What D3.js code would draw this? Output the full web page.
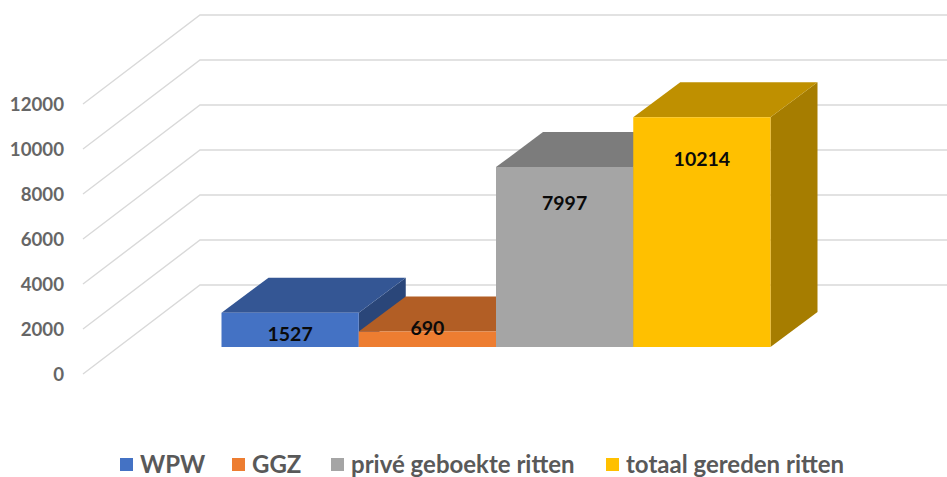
<!DOCTYPE html>
<html><head><meta charset="utf-8">
<script src="https://cdn.jsdelivr.net/npm/d3@7"></script>
<style>html,body{margin:0;padding:0;background:#fff}svg{display:block}text{font-family:Lato,"Open Sans",sans-serif}</style>
</head><body><svg id="c" width="947" height="477"></svg>
<script>
const categories = ["WPW","GGZ","privé geboekte ritten","totaal gereden ritten"];
const values = [1527,690,7997,10214];
const ticks = [0,2000,4000,6000,8000,10000,12000];
const frontColors = ["#4472C4","#ED7D31","#A5A5A5","#FFC000"];
const topColors = ["#345694","#B25E25","#7C7C7C","#BF9000"];
const sideColors = ["#2A4679","#914C1E","#656565","#A67D00"];
const legendSwatchX = [120,232,331,606];
const labelOffsets = [22,-3.5,36,41.5];

const svg = d3.select("#c");
const y = d3.scaleLinear().domain([0,12000]).range([347,77]);
const x = d3.scaleBand().domain(categories).range([221.5,770.5]).padding(0);
const depth = {dx:47, dy:-35};
const wall = {dy:-62, leftX:83, leftDy:27, cornerX:200, rightX:947};

const grid = svg.append("g").attr("fill","none").attr("stroke","#D9D9D9").attr("stroke-width",1.4);
ticks.forEach(t=>{
  const yy=y(t);
  grid.append("path").attr("d",d3.line()([[wall.leftX,yy+wall.leftDy],[wall.cornerX,yy+wall.dy],[wall.rightX,yy+wall.dy]]));
});
svg.append("g").selectAll("text").data(ticks).join("text")
  .attr("x",64).attr("y",d=>y(d)+wall.leftDy+0.5).attr("dy","0.35em").attr("text-anchor","end")
  .attr("font-size",18.7).attr("font-weight",700).attr("fill","#666666").text(d=>d);

const bars = svg.append("g");
categories.forEach((c,i)=>{
  const x0=x(c),x1=x0+x.bandwidth(),yt=y(values[i]),yb=y(0);
  const {dx,dy}=depth;
  const poly=(pts,col)=>bars.append("polygon").attr("points",pts.map(p=>p.join(",")).join(" ")).attr("fill",col);
  poly([[x1,yt],[x1+dx,yt+dy],[x1+dx,yb+dy],[x1,yb]],sideColors[i]);
  poly([[x0,yt],[x0+dx,yt+dy],[x1+dx,yt+dy],[x1,yt]],topColors[i]);
  poly([[x0,yt],[x1,yt],[x1,yb],[x0,yb]],frontColors[i]);
});
svg.append("g").selectAll("text").data(values).join("text")
  .attr("x",(d,i)=>x(categories[i])+x.bandwidth()/2)
  .attr("y",(d,i)=>y(d)+labelOffsets[i]).attr("dy","0.35em").attr("text-anchor","middle")
  .attr("font-size",19.5).attr("font-weight",700).attr("fill","#0A0A0A").text(d=>d);

const lg=svg.append("g");
categories.forEach((c,i)=>{
  lg.append("rect").attr("x",legendSwatchX[i]).attr("y",458).attr("width",13).attr("height",13).attr("fill",frontColors[i]);
  lg.append("text").attr("x",legendSwatchX[i]+20).attr("y",465).attr("dy","0.35em")
    .attr("font-size",24).attr("font-weight",700).attr("fill","#595959").text(c);
});
</script></body></html>
